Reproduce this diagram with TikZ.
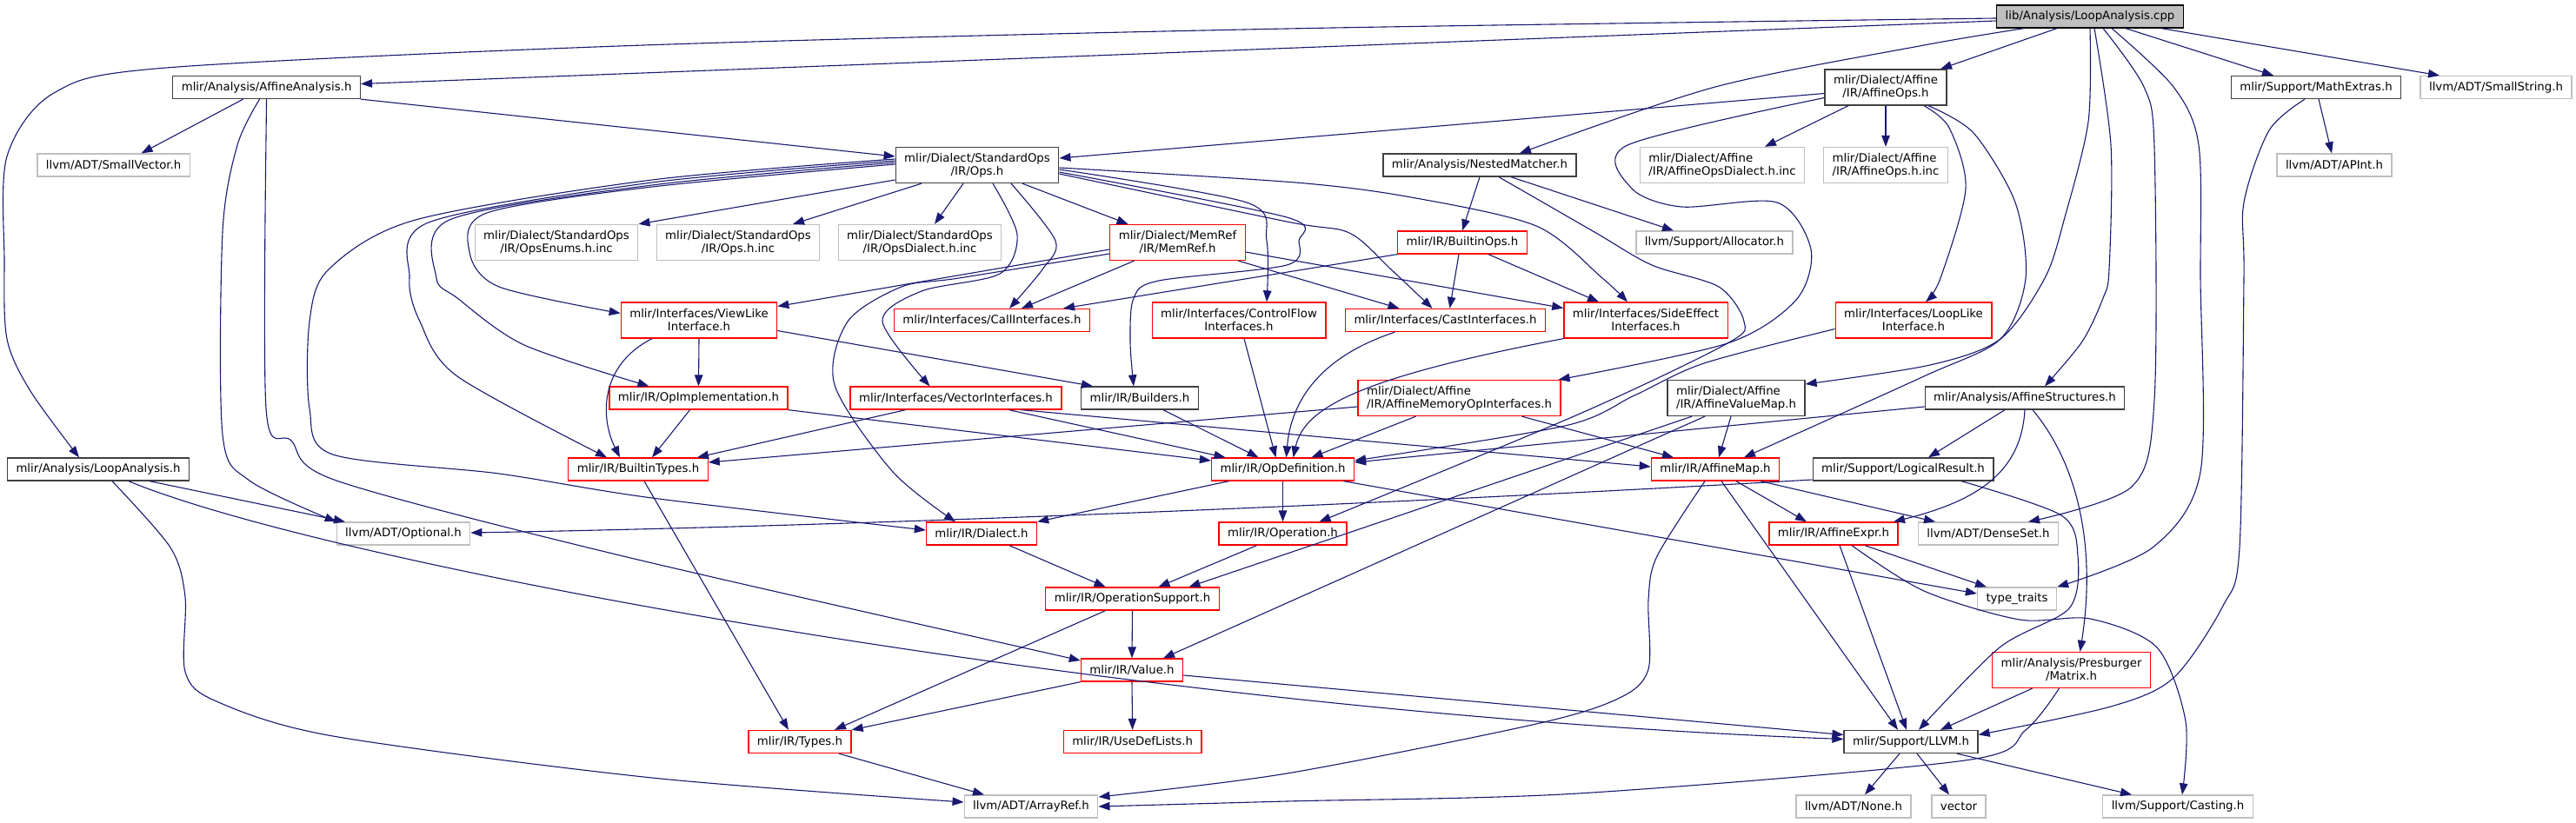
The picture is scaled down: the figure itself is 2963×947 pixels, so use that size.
\documentclass[tikz,border=0pt]{standalone}
\usepackage{fontspec}
\setmainfont{DejaVu Sans}
\usepackage{tikz}
\usetikzlibrary{arrows.meta}
\definecolor{edgeblue}{HTML}{191970}
\definecolor{docgrey}{HTML}{404040}
\definecolor{extgrey}{HTML}{BFBFBF}
\definecolor{truncred}{HTML}{FF0000}

\begin{document}
\begin{tikzpicture}[
      x=1pt, y=-1pt,
      every node/.style={font=\fontsize{13.3}{15}\selectfont},
      hdr/.style={draw,rectangle,line width=1.3pt,inner xsep=10pt,inner ysep=2pt,minimum height=26pt,fill=white},
      root/.style={hdr,draw=black,fill=extgrey},
      doc/.style={hdr,draw=docgrey},
      trunc/.style={hdr,draw=truncred},
      ext/.style={hdr,draw=extgrey},
      twoc/.style={minimum height=41pt,align=center},
      twol/.style={minimum height=41pt,align=left},
      incl/.style={draw=edgeblue,line width=1.1pt,-{Triangle[length=13pt,width=9.5pt]}}
  ]
    \fill[white] (0,0) rectangle (2963,947);
    \useasboundingbox (0,0) rectangle (2963,947);

    % files, rank by rank
    \node[root] (cpp) at (2404,19) {lib/Analysis/LoopAnalysis.cpp};
    \node[doc] (affana) at (306.6,100.5) {mlir/Analysis/AffineAnalysis.h};
    \node[doc,twoc] (affops) at (2169,100.5) {mlir/Dialect/Affine\\/IR/AffineOps.h};
    \node[doc] (mathx) at (2664,100.5) {mlir/Support/MathExtras.h};
    \node[ext] (smallstr) at (2871,100.5) {llvm/ADT/SmallString.h};
    \node[ext] (smallvec) at (130.6,190) {llvm/ADT/SmallVector.h};
    \node[doc,twoc] (stdops) at (1124,190) {mlir/Dialect/StandardOps\\/IR/Ops.h};
    \node[doc] (nested) at (1702,190) {mlir/Analysis/NestedMatcher.h};
    \node[ext,twol] (affdialinc) at (1981,190) {mlir/Dialect/Affine\\/IR/AffineOpsDialect.h.inc};
    \node[ext,twol] (affopsinc) at (2169,190) {mlir/Dialect/Affine\\/IR/AffineOps.h.inc};
    \node[ext] (apint) at (2685,190) {llvm/ADT/APInt.h};
    \node[ext,twoc] (opsenums) at (640,279) {mlir/Dialect/StandardOps\\/IR/OpsEnums.h.inc};
    \node[ext,twoc] (opsinc) at (849,279) {mlir/Dialect/StandardOps\\/IR/Ops.h.inc};
    \node[ext,twoc] (opsdialinc) at (1058,279) {mlir/Dialect/StandardOps\\/IR/OpsDialect.h.inc};
    \node[trunc,twoc] (memref) at (1354.5,279) {mlir/Dialect/MemRef\\/IR/MemRef.h};
    \node[trunc] (builtinops) at (1682,279) {mlir/IR/BuiltinOps.h};
    \node[ext] (allocator) at (1972,279) {llvm/Support/Allocator.h};
    \node[trunc,twoc] (viewlike) at (804,368.5) {mlir/Interfaces/ViewLike\\Interface.h};
    \node[trunc] (callif) at (1141,368.5) {mlir/Interfaces/CallInterfaces.h};
    \node[trunc,twoc] (cflow) at (1425,368.5) {mlir/Interfaces/ControlFlow\\Interfaces.h};
    \node[trunc] (castif) at (1662.5,368.5) {mlir/Interfaces/CastInterfaces.h};
    \node[trunc,twoc] (sideeff) at (1893,368.5) {mlir/Interfaces/SideEffect\\Interfaces.h};
    \node[trunc,twoc] (looplike) at (2201,368.5) {mlir/Interfaces/LoopLike\\Interface.h};
    \node[trunc] (opimpl) at (803.5,458) {mlir/IR/OpImplementation.h};
    \node[trunc] (vecif) at (1099.5,458) {mlir/Interfaces/VectorInterfaces.h};
    \node[doc] (builders) at (1311,458) {mlir/IR/Builders.h};
    \node[trunc,twol] (affmem) at (1678.5,458) {mlir/Dialect/Affine\\/IR/AffineMemoryOpInterfaces.h};
    \node[doc,twol] (affvmap) at (1997,458) {mlir/Dialect/Affine\\/IR/AffineValueMap.h};
    \node[doc] (affstruct) at (2329,458) {mlir/Analysis/AffineStructures.h};
    \node[doc] (loopana) at (113,540) {mlir/Analysis/LoopAnalysis.h};
    \node[trunc] (builtintypes) at (734,540) {mlir/IR/BuiltinTypes.h};
    \node[trunc] (opdef) at (1475.5,540) {mlir/IR/OpDefinition.h};
    \node[trunc] (affmap) at (1973,540) {mlir/IR/AffineMap.h};
    \node[doc] (logres) at (2189,540) {mlir/Support/LogicalResult.h};
    \node[ext] (optional) at (464,614) {llvm/ADT/Optional.h};
    \node[trunc] (dialect) at (1129,614) {mlir/IR/Dialect.h};
    \node[trunc] (operation) at (1475.5,614) {mlir/IR/Operation.h};
    \node[trunc] (affexpr) at (2109,614) {mlir/IR/AffineExpr.h};
    \node[ext] (denseset) at (2287,614) {llvm/ADT/DenseSet.h};
    \node[trunc] (opsupport) at (1302.5,689) {mlir/IR/OperationSupport.h};
    \node[ext] (typetraits) at (2320,689) {type\_traits};
    \node[trunc] (value) at (1302,771) {mlir/IR/Value.h};
    \node[trunc,twoc] (matrix) at (2382.5,771) {mlir/Analysis/Presburger\\/Matrix.h};
    \node[trunc] (types) at (920,853.5) {mlir/IR/Types.h};
    \node[trunc] (usedef) at (1302.6,853.5) {mlir/IR/UseDefLists.h};
    \node[doc] (llvm) at (2198,853.5) {mlir/Support/LLVM.h};
    \node[ext] (arrayref) at (1186,928) {llvm/ADT/ArrayRef.h};
    \node[ext] (none) at (2132,928) {llvm/ADT/None.h};
    \node[ext] (vector) at (2253,928) {vector};
    \node[ext] (casting) at (2505,928) {llvm/Support/Casting.h};

    % includes of the .cpp file
    \draw[incl] ([yshift=-5pt]cpp.west) -- ([yshift=4pt]affana.east);
    \draw[incl] plot[smooth] coordinates {([yshift=-2pt]cpp.west) (1480,33) (740,52) (191,78) (62,107) (8,180) (5,300) (8,390) (35,450) ([xshift=-22pt]loopana.north)};
    \draw[incl] plot[smooth] coordinates {([xshift=-76pt]cpp.south) (2213,52) (1973,100) ([xshift=46pt]nested.north)};
    \draw[incl] ([xshift=-38pt]cpp.south) -- ([xshift=63pt]affops.north);
    \draw[incl] ([xshift=41pt]cpp.south) -- ([xshift=-49pt]mathx.north);
    \draw[incl] ([xshift=82pt]cpp.south) -- ([xshift=-65pt]smallstr.north);
    \draw[incl] plot[smooth] coordinates {(cpp.south) (2402,140) (2375,250) (2352,320) (2301,390) (2220,420) ([yshift=16pt]affvmap.east)};
    \draw[incl] plot[smooth] coordinates {([xshift=5pt]cpp.south) (2428,167) (2426,310) (2419,343) (2395,393) ([xshift=23pt]affstruct.north)};
    \draw[incl] plot[smooth] coordinates {([xshift=15pt]cpp.south) (2466,100) (2478,170) (2478,460) (2452,560) ([xshift=46pt]denseset.north)};
    \draw[incl] plot[smooth] coordinates {([xshift=25pt]cpp.south) (2500,100) (2529,167) (2531,320) (2531,543) (2476,630) (typetraits.north east)};

    % AffineAnalysis.h and LoopAnalysis.h
    \draw[incl] ([xshift=-27pt]affana.south) -- ([xshift=32pt]smallvec.north);
    \draw[incl] (affana.south east) -- ([yshift=10pt]stdops.west);
    \draw[incl] plot[smooth] coordinates {([xshift=-8pt]affana.south) (273,167) (256,267) (256,500) (287,553) (optional.north west)};
    \draw[incl] plot[smooth] coordinates {(affana.south) (306,470) (335,507) (387,553) (717,640) ([yshift=11pt]value.west)};
    \draw[incl] plot[smooth] coordinates {([xshift=16pt]loopana.south) (196,630) (213,687) (213,773) (249,807) (383,847) (750,895) ([yshift=5pt]arrayref.west)};
    \draw[incl] ([xshift=35pt]loopana.south) .. controls (380,650) and (1300,820) .. ([yshift=3pt]llvm.west);
    \draw[incl] ([xshift=59pt]loopana.south) -- ([xshift=-67pt]optional.north);

    % AffineOps.h
    \draw[incl] ([yshift=-7pt]affops.west) -- ([yshift=8pt]stdops.east);
    \draw[incl] plot[smooth] coordinates {([yshift=-12pt]affops.west) (1872,167) (1877,217) (1934,238) (2044,233) (2083,287) (2066,345) (1987,395) ([xshift=-3pt]affmem.north east)};
    \draw[incl] ([xshift=-43pt]affops.south) -- ([xshift=49pt]affdialinc.north);
    \draw[incl] (affops.south) -- (affopsinc.north);
    \draw[incl] plot[smooth] coordinates {([xshift=44pt]affops.south) (2242,147) (2261,217) (2232,320) ([xshift=14pt]looplike.north)};
    \draw[incl] plot[smooth] coordinates {([xshift=49pt]affops.south) (2270,153) (2318,233) (2330,320) (2301,390) (2213,433) ([xshift=33pt]affmap.north)};

    % MathExtras.h
    \draw[incl] ([xshift=3pt]mathx.south) -- ([xshift=-3pt]apint.north);
    \draw[incl] plot[smooth] coordinates {([xshift=-13pt]mathx.south) (2610,150) (2581,233) (2581,320) (2576,630) (2557,697) (2500,780) (2428,813) ([yshift=8pt]llvm.east)};

    % StandardOps/IR/Ops.h
    \draw[incl] ([yshift=-17pt]stdops.west) -- (opsenums.north east);
    \draw[incl] ([xshift=-64pt]stdops.south) -- ([xshift=63pt]opsinc.north);
    \draw[incl] ([xshift=-16pt]stdops.south) -- ([xshift=17pt]opsdialinc.north);
    \draw[incl] ([xshift=52pt]stdops.south) -- ([xshift=-57pt]memref.north);
    \draw[incl] plot[smooth] coordinates {([yshift=1pt]stdops.west) (750,215) (560,245) (540,290) (574,330) ([yshift=8pt]viewlike.west)};
    \draw[incl] plot[smooth] coordinates {([yshift=3pt]stdops.west) (750,213) (517,253) (502,320) (526,343) (603,397) ([xshift=-57pt]opimpl.north)};
    \draw[incl] plot[smooth] coordinates {([yshift=5pt]stdops.west) (750,210) (493,256) (471,320) (483,370) (526,433) ([xshift=-36pt]builtintypes.north)};
    \draw[incl] plot[smooth] coordinates {([yshift=7pt]stdops.west) (750,207) (478,253) (378,310) (356,370) (356,470) (383,523) (574,545) (750,573) ([yshift=4pt]dialect.west)};
    \draw[incl] plot[smooth] coordinates {([xshift=18pt]stdops.south) (1170,270) (1150,315) (1060,335) (1015,370) ([xshift=-30pt]vecif.north)};
    \draw[incl] plot[smooth] coordinates {([xshift=39pt]stdops.south) (1214,277) (1199,310) ([xshift=20pt]callif.north)};
    \draw[incl] plot[smooth] coordinates {([yshift=-5pt]stdops.east) (1434,233) (1457,277) ([xshift=32pt]cflow.north)};
    \draw[incl] plot[smooth] coordinates {([yshift=-8pt]stdops.east) (1480,250) (1494,277) (1480,305) (1333,323) (1304,343) (1300,393) ([xshift=-7pt]builders.north)};
    \draw[incl] plot[smooth] coordinates {([yshift=-10pt]stdops.east) (1480,255) (1552,268) (1600,310) ([xshift=-15pt]castif.north)};
    \draw[incl] plot[smooth] coordinates {([yshift=-3pt]stdops.east) (1490,210) (1623,227) (1767,260) (1843,320) ([xshift=-21pt]sideeff.north)};

    % NestedMatcher.h
    \draw[incl] (nested.south) -- (builtinops.north);
    \draw[incl] ([xshift=36pt]nested.south) -- ([xshift=-47pt]allocator.north);
    \draw[incl] plot[smooth] coordinates {([xshift=22pt]nested.south) (1834,267) (1900,305) (1977,330) (2006,370) (1987,395) (1815,477) ([xshift=42pt]operation.north)};

    % MemRef.h and BuiltinOps.h
    \draw[incl] ([yshift=-8pt]memref.west) -- ([yshift=16pt]viewlike.east);
    \draw[incl] ([xshift=-50pt]memref.south) -- ([xshift=34pt]callif.north);
    \draw[incl] ([xshift=70pt]memref.south) -- ([xshift=-53pt]castif.north);
    \draw[incl] ([yshift=-11pt]memref.east) -- ([yshift=14pt]sideeff.west);
    \draw[incl] plot[smooth] coordinates {([yshift=-13pt]memref.west) (1103,320) (1037,330) (975,370) (960,443) (1027,543) ([xshift=-30pt]dialect.north)};
    \draw[incl] (builtinops.south west) -- ([xshift=82pt]callif.north);
    \draw[incl] ([xshift=-4pt]builtinops.south) -- ([xshift=5pt]castif.north);
    \draw[incl] ([xshift=30pt]builtinops.south) -- ([xshift=-54pt]sideeff.north);

    % interfaces
    \draw[incl] (viewlike.south) -- (opimpl.north);
    \draw[incl] ([xshift=-54pt]viewlike.south) .. controls (690,420) and (690,480) .. ([xshift=-21pt]builtintypes.north);
    \draw[incl] ([yshift=-12pt]viewlike.east) -- ([xshift=-54pt]builders.north);
    \draw[incl] ([xshift=6pt]cflow.south) -- ([xshift=-8pt]opdef.north);
    \draw[incl] ([xshift=-58pt]castif.south) .. controls (1520,410) and (1485,460) .. ([xshift=4pt]opdef.north);
    \draw[incl] (sideeff.south west) .. controls (1560,435) and (1500,470) .. ([xshift=12pt]opdef.north);
    \draw[incl] plot[smooth] coordinates {([yshift=-10pt]looplike.west) (1960,418) (1880,455) (1800,490) ([yshift=10pt]opdef.east)};
    \draw[incl] ([xshift=-10pt]opimpl.south) -- ([xshift=16pt]builtintypes.north);
    \draw[incl] (opimpl.south east) -- ([yshift=10pt]opdef.west);
    \draw[incl] ([xshift=-58pt]vecif.south) -- ([xshift=68pt]builtintypes.north);
    \draw[incl] ([xshift=61pt]vecif.south) -- ([xshift=-66pt]opdef.north);
    \draw[incl] ([xshift=75pt]vecif.south) -- ([yshift=3pt]affmap.west);
    \draw[incl] ([xshift=27pt]builders.south) -- ([xshift=-28pt]opdef.north);

    % affine headers
    \draw[incl] ([yshift=-10pt]affmem.west) -- ([yshift=8pt]builtintypes.east);
    \draw[incl] ([xshift=-50pt]affmem.south) -- ([xshift=33pt]opdef.north);
    \draw[incl] ([xshift=72pt]affmem.south) -- ([xshift=-48pt]affmap.north);
    \draw[incl] ([xshift=-6pt]affvmap.south) -- ([xshift=4pt]affmap.north);
    \draw[incl] ([xshift=-51pt]affvmap.south) -- ([xshift=65pt]opsupport.north);
    \draw[incl] ([xshift=-36pt]affvmap.south) -- ([xshift=36pt]value.north);
    \draw[incl] ([yshift=-10pt]affstruct.west) -- ([yshift=8pt]opdef.east);
    \draw[incl] ([xshift=-23pt]affstruct.south) -- ([xshift=29pt]logres.north);
    \draw[incl] (affstruct.south) .. controls (2325,540) and (2280,575) .. ([xshift=69pt]affexpr.north);
    \draw[incl] ([xshift=9pt]affstruct.south) .. controls (2395,540) and (2410,640) .. ([xshift=10pt]matrix.north);

    % IR headers
    \draw[incl] ([xshift=7pt]builtintypes.south) -- ([xshift=-13pt]types.north);
    \draw[incl] ([xshift=-62pt]opdef.south) -- (dialect.north east);
    \draw[incl] (opdef.south) -- (operation.north);
    \draw[incl] ([xshift=70pt]opdef.south) -- ([yshift=6pt]typetraits.west);
    \draw[incl] ([xshift=24pt]affmap.south) -- ([xshift=-31pt]affexpr.north);
    \draw[incl] ([xshift=52pt]affmap.south) -- ([xshift=-61pt]denseset.north);
    \draw[incl] ([xshift=7pt]affmap.south) -- ([xshift=-15pt]llvm.north);
    \draw[incl] plot[smooth] coordinates {([xshift=-12pt]affmap.south) (1906,640) (1896,690) (1896,770) (1863,803) (1767,833) (1480,890) ([yshift=11pt]arrayref.east)};
    \draw[incl] ([yshift=-12pt]logres.west) .. controls (1600,580) and (1000,605) .. ([yshift=1pt]optional.east);
    \draw[incl] plot[smooth] coordinates {([xshift=67pt]logres.south) (2371,593) (2390,640) (2380,700) (2300,745) ([xshift=9pt]llvm.north)};
    \draw[incl] ([xshift=32pt]dialect.south) -- ([xshift=-31pt]opsupport.north);
    \draw[incl] ([xshift=-30pt]operation.south) -- ([xshift=30pt]opsupport.north);
    \draw[incl] ([xshift=7pt]affexpr.south) -- ([xshift=-5pt]llvm.north);
    \draw[incl] ([xshift=36pt]affexpr.south) -- ([xshift=-35pt]typetraits.north);
    \draw[incl] plot[smooth] coordinates {([xshift=21pt]affexpr.south) (2213,680) (2323,713) (2404,712) (2481,745) (2514,830) ([xshift=5pt]casting.north)};
    \draw[incl] (opsupport.south) -- (value.north);
    \draw[incl] ([xshift=-31pt]opsupport.south) -- ([xshift=40pt]types.north);
    \draw[incl] (value.south west) -- (types.north east);
    \draw[incl] (value.south) -- (usedef.north);
    \draw[incl] ([yshift=-6pt]value.east) -- ([yshift=8pt]llvm.west);
    \draw[incl] ([xshift=-45pt]matrix.south) -- ([xshift=34pt]llvm.north);
    \draw[incl] plot[smooth] coordinates {([xshift=-14pt]matrix.south) (2330,840) (2260,875) (1815,913) (1480,922) (arrayref.east)};
    \draw[incl] ([xshift=45pt]types.south) -- ([xshift=-54pt]arrayref.north);
    \draw[incl] ([xshift=-13pt]llvm.south) -- ([xshift=13pt]none.north);
    \draw[incl] ([xshift=7pt]llvm.south) -- ([xshift=-11pt]vector.north);
    \draw[incl] ([xshift=53pt]llvm.south) -- ([xshift=-53pt]casting.north);
  \end{tikzpicture}
\end{document}
